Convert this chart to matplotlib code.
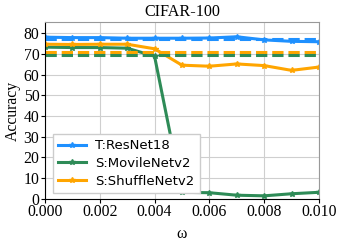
import matplotlib
matplotlib.use("Agg")
import matplotlib.pyplot as plt

omega = [0.000, 0.001, 0.002, 0.003, 0.004, 0.005, 0.006, 0.007, 0.008, 0.009, 0.010]
teacher = [78.0, 77.8, 77.8, 77.5, 77.5, 77.5, 77.6, 78.2, 76.7, 76.0, 75.8]
mobile = [73.2, 73.0, 73.0, 72.7, 68.8, 3.2, 3.0, 1.8, 1.5, 2.5, 3.2]
shuffle = [74.6, 74.5, 74.6, 74.6, 72.4, 64.5, 64.0, 65.1, 64.3, 62.0, 63.6]
teacher_base = 77.3
mobile_base = 69.3
shuffle_base = 71.0
labels = ["T:ResNet18", "S:MovileNetv2", "S:ShuffleNetv2"]
title = "CIFAR-100"

c_t, c_m, c_s = "#1E90FF", "#2E8B57", "#FFA500"

fig = plt.figure(figsize=(3.43, 2.45), dpi=100)
ax = fig.add_axes([0.131, 0.188, 0.799, 0.722])
serif = "Liberation Serif"

ax.plot(omega, teacher, color=c_t, lw=2.2, marker="*", ms=4, label=labels[0])
ax.plot(omega, mobile, color=c_m, lw=2.2, marker="*", ms=4, label=labels[1])
ax.plot(omega, shuffle, color=c_s, lw=2.2, marker="*", ms=4, label=labels[2])
ax.axhline(teacher_base, color=c_t, lw=2.2, ls="--")
ax.axhline(shuffle_base, color=c_s, lw=2.2, ls="--")
ax.axhline(mobile_base, color=c_m, lw=2.2, ls="--")

ax.set_xlim(0, 0.010)
ax.set_ylim(0, 85.3)
ax.set_xticks([0.000, 0.002, 0.004, 0.006, 0.008, 0.010])
ax.set_xticklabels(["0.000", "0.002", "0.004", "0.006", "0.008", "0.010"])
ax.set_yticks(range(0, 81, 10))
for lab in ax.get_xticklabels() + ax.get_yticklabels():
    lab.set_fontfamily(serif)
    lab.set_fontsize(11.3)
ax.tick_params(length=3, pad=1)
ax.grid(True, color="#cfcfcf", lw=0.8)
ax.set_axisbelow(True)
for s in ["top", "right"]:
    ax.spines[s].set_color("#999999")
ax.set_title(title, fontfamily=serif, fontsize=11.6, pad=4)
ax.set_ylabel("Accuracy", fontfamily=serif, fontsize=11.3, labelpad=2)
ax.set_xlabel("ω", fontfamily=serif, fontsize=11.3, labelpad=4)

leg = ax.legend(loc="lower left", bbox_to_anchor=(8 / 274, 6 / 177), borderaxespad=0,
                fontsize=9.5, handlelength=2.1, handletextpad=0.7,
                borderpad=0.4, labelspacing=0.35,
                fancybox=False, framealpha=1)
leg.get_frame().set_edgecolor("#cccccc")

fig.savefig("out.png", dpi=100)
